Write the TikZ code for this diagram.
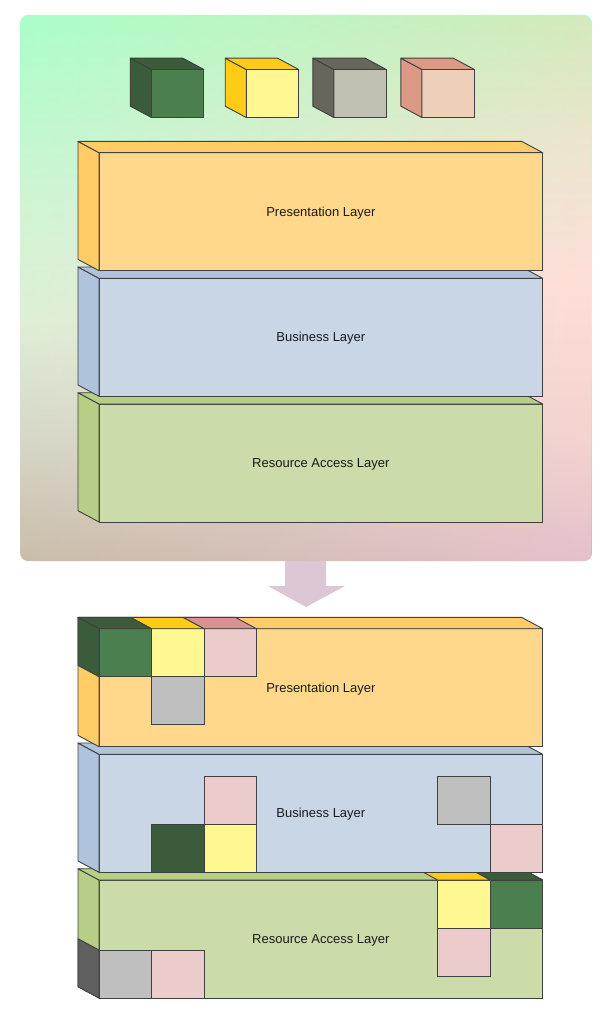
\documentclass[tikz,border=0pt]{standalone}
\usepackage{fontspec}
\setmainfont{Liberation Sans}
\usetikzlibrary{positioning, fadings}

\definecolor{cOrange}{HTML}{FFD88C}
\definecolor{cOrangeSide}{HTML}{FFCC66}
\definecolor{cBlue}{HTML}{C9D6E6}
\definecolor{cBlueSide}{HTML}{AFC3DD}
\definecolor{cLime}{HTML}{CBDBA9}
\definecolor{cLimeSide}{HTML}{B6CE85}
\definecolor{cGreen}{HTML}{4C7F4F}
\definecolor{cGreenSide}{HTML}{3A5C3A}
\definecolor{cYellow}{HTML}{FFF791}
\definecolor{cYellowSide}{HTML}{FFCB19}
\definecolor{cStone}{HTML}{C0C1B2}
\definecolor{cStoneSide}{HTML}{66665A}
\definecolor{cPeach}{HTML}{EDCFBA}
\definecolor{cPeachSide}{HTML}{DC9A86}
\definecolor{cPink}{HTML}{ECCBCB}
\definecolor{cPinkSide}{HTML}{D89292}
\definecolor{cGrey}{HTML}{BFBFBF}
\definecolor{cGreySide}{HTML}{606060}
\definecolor{cEdge}{HTML}{404040}
\definecolor{cArrow}{HTML}{DBC8D4}
\definecolor{cText}{HTML}{1A1A1A}
\definecolor{leftA}{HTML}{C9BDAA}
\definecolor{leftB}{HTML}{D5D5C5}
\definecolor{leftC}{HTML}{DFEFD8}
\definecolor{leftD}{HTML}{CFF5D5}
\definecolor{leftE}{HTML}{AAFFC8}
\definecolor{midA}{HTML}{DCCBD2}
\definecolor{midB}{HTML}{E4DAD8}
\definecolor{midC}{HTML}{DDEEDD}
\definecolor{midD}{HTML}{BEFACA}
\definecolor{rightA}{HTML}{E5C1CB}
\definecolor{rightB}{HTML}{F5D3D0}
\definecolor{rightC}{HTML}{FFDDD8}
\definecolor{rightD}{HTML}{EFE5CF}
\definecolor{rightE}{HTML}{D4EABB}

\pgfdeclareverticalshading{panelleft}{100bp}{
  color(0bp)=(leftA); color(25bp)=(leftA); color(35bp)=(leftB); color(47bp)=(leftC);
  color(58bp)=(leftD); color(75bp)=(leftE); color(100bp)=(leftE)}
\pgfdeclareverticalshading{panelmid}{100bp}{
  color(0bp)=(midA); color(25bp)=(midA); color(37bp)=(midB); color(50bp)=(midC);
  color(75bp)=(midD); color(100bp)=(midD)}
\pgfdeclareverticalshading{panelright}{100bp}{
  color(0bp)=(rightA); color(25bp)=(rightA); color(37bp)=(rightB); color(50bp)=(rightC);
  color(62bp)=(rightD); color(75bp)=(rightE); color(100bp)=(rightE)}
\tikzfading[name=fadeinright, left color=transparent!100, right color=transparent!0]
\tikzfading[name=fadeinmid, left color=transparent!100, middle color=transparent!0, right color=transparent!100]

\tikzset{
  face/.style={draw=cEdge, line width=0.9pt, inner sep=0pt, outer sep=0pt},
  layerbox/.style={face, anchor=north west, minimum width=443.7pt, minimum height=118pt},
  tile/.style={face, minimum width=52.5pt, minimum height=48pt},
  cubebox/.style={face, anchor=north west, minimum width=52.5pt, minimum height=48pt},
  rim/.style={draw=cEdge, line width=0.9pt, line join=round},
  lab/.style={text=cText, font=\fontsize{13}{15}\selectfont}
}

% front face with its side and top
\newcommand{\layer}[5]{
  \node[layerbox, fill=#3] (#1) at (99,#2) {};
  \node[lab] (#1Lab) at ([yshift=-1.2pt]#1.center) {#5};
  \filldraw[rim, fill=#4] (#1.north west) -- ++(-21,-11.3) -- ++(0,118) -- (#1.south west) -- cycle;
  \filldraw[rim, fill=#4] (#1.north west) -- ++(-21,-11.3) -- ([shift={(-21,-11.3)}]#1.north east) -- (#1.north east) -- cycle;
}
\newcommand{\tileside}[2]{
  \filldraw[rim, fill=#2] (#1.north west) -- ++(-21,-11.3) -- ([shift={(-21,-11.3)}]#1.south west) -- (#1.south west) -- cycle;
}
\newcommand{\tiletop}[2]{
  \filldraw[rim, fill=#2] (#1.north west) -- ++(-21,-11.3) -- ([shift={(-21,-11.3)}]#1.north east) -- (#1.north east) -- cycle;
}
\newcommand{\cube}[4]{
  \node[cubebox, fill=#3] (#1) at (#2,69.5) {};
  \tileside{#1}{#4}
  \tiletop{#1}{#4}
}

\begin{document}
\begin{tikzpicture}[x=1pt, y=-1pt, node distance=0pt]
\useasboundingbox (0,0) rectangle (610,1024);

% panel
\path[shading=panelleft, rounded corners=8pt] (20,15) rectangle (592,561);
\path[shading=panelright, path fading=fadeinright, rounded corners=8pt] (20,15) rectangle (592,561);
\path[shading=panelmid, path fading=fadeinmid, rounded corners=8pt] (20,15) rectangle (592,561);
\fill[cArrow] (285,561) -- (326,561) -- (326,586) -- (345,586) -- (306,607) -- (268,586) -- (285,586) -- cycle;

% legend
\cube{cubeA}{151.4}{cGreen}{cGreenSide}
\cube{cubeB}{246.2}{cYellow}{cYellowSide}
\cube{cubeC}{333.8}{cStone}{cStoneSide}
\cube{cubeD}{421.9}{cPeach}{cPeachSide}

% upper stack
\layer{resA}{404}{cLime}{cLimeSide}{Resource Access Layer}
\layer{busA}{278.3}{cBlue}{cBlueSide}{Business Layer}
\layer{preA}{152.7}{cOrange}{cOrangeSide}{Presentation Layer}

% lower stack
\layer{resC}{880}{cLime}{cLimeSide}{Resource Access Layer}
\node[tile, fill=cGrey, anchor=south west] (resGrey) at (resC.south west) {};
\node[tile, fill=cPink, right=of resGrey] (resPink) {};
\tileside{resGrey}{cGreySide}
\node[tile, fill=cGreen, anchor=north east] (resGreen) at (resC.north east) {};
\node[tile, fill=cYellow, left=of resGreen] (resYellow) {};
\node[tile, fill=cPink, below=of resYellow] (resPinkB) {};
\tiletop{resGreen}{cGreenSide}
\tiletop{resYellow}{cYellowSide}

\layer{busC}{754.3}{cBlue}{cBlueSide}{Business Layer}
\node[tile, fill=cGreenSide, anchor=south west] (busGreen) at ([xshift=52.5pt]busC.south west) {};
\node[tile, fill=cYellow, right=of busGreen] (busYellow) {};
\node[tile, fill=cPink, above=of busYellow] (busPink) {};
\node[tile, fill=cPink, anchor=south east] (busPinkB) at (busC.south east) {};
\node[tile, fill=cGrey, anchor=south east] (busGrey) at (busPinkB.north west) {};

\layer{preC}{628.7}{cOrange}{cOrangeSide}{Presentation Layer}
\node[tile, fill=cGreen, anchor=north west] (preGreen) at (preC.north west) {};
\node[tile, fill=cYellow, right=of preGreen] (preYellow) {};
\node[tile, fill=cPink, right=of preYellow] (prePink) {};
\node[tile, fill=cGrey, below=of preYellow] (preGrey) {};
\tiletop{prePink}{cPinkSide}
\tiletop{preYellow}{cYellowSide}
\tiletop{preGreen}{cGreenSide}
\tileside{preGreen}{cGreenSide}
\end{tikzpicture}
\end{document}
